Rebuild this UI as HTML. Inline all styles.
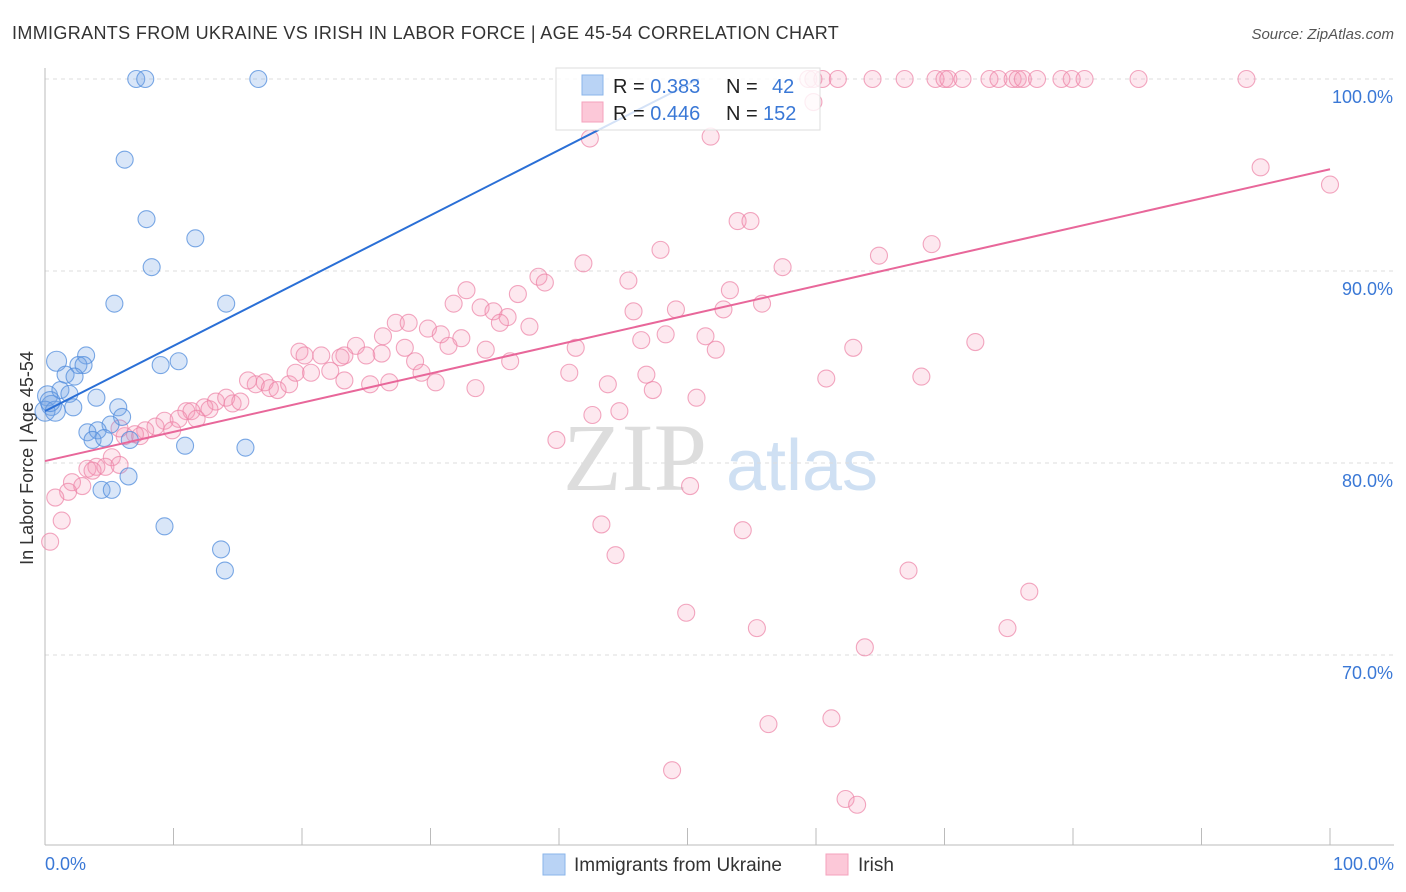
<!DOCTYPE html>
<html><head><meta charset="utf-8"><style>
body{margin:0;background:#fff;font-family:"Liberation Sans",sans-serif}
svg{display:block}
</style></head><body>
<svg id="chart" width="1406" height="892">
<text x="12" y="39" font-size="18" fill="#333" letter-spacing="0.35">IMMIGRANTS FROM UKRAINE VS IRISH IN LABOR FORCE | AGE 45-54 CORRELATION CHART</text>
<text x="1394" y="39" font-size="15" fill="#555" text-anchor="end" font-style="italic">Source: ZipAtlas.com</text>
<text x="33" y="458" font-size="18" fill="#333" text-anchor="middle" transform="rotate(-90 33 458)">In Labor Force | Age 45-54</text>
<g>
<text x="635" y="490" font-size="96" fill="#ddd" text-anchor="middle" font-family="Liberation Serif,serif">ZIP</text>
<text x="802" y="490" font-size="72" fill="#cfe0f3" text-anchor="middle">atlas</text>
</g>
<g id="grid"></g><g id="marks"></g>
<g>
<rect x="556" y="68" width="264" height="62" fill="#fff" fill-opacity="0.8" stroke="#ddd"/>
<rect x="582" y="75" width="21" height="20" fill="#b9d3f5" stroke="#8ab4ea"/>
<rect x="582" y="102" width="21" height="20" fill="#fcc8d8" stroke="#f4a2bd"/>
<text x="613" y="93" font-size="20" fill="#222">R = <tspan fill="#3a78d6"> 0.383</tspan><tspan x="726">N = </tspan><tspan x="772" fill="#3a78d6">42</tspan></text>
<text x="613" y="120" font-size="20" fill="#222">R = <tspan fill="#3a78d6">0.446</tspan><tspan x="726">N = </tspan><tspan x="763" fill="#3a78d6">152</tspan></text>
</g>
<g>
<rect x="543" y="854" width="22" height="21" fill="#b9d3f5" stroke="#8ab4ea"/>
<text x="574" y="871" font-size="19" fill="#333">Immigrants from Ukraine</text>
<rect x="826" y="854" width="22" height="21" fill="#fcc8d8" stroke="#f4a2bd"/>
<text x="858" y="871" font-size="19" fill="#333">Irish</text>
</g>
</svg>
<script>
const yTicks=[70,80,90,100];
const yTickLabels=["70.0%","80.0%","90.0%","100.0%"];
const xTicks=[0,10,20,30,40,50,60,70,80,90,100];
const ukraineX=[7.1,7.8,16.6,6.2,7.9,11.7,8.3,5.4,14.1,0.9,3.2,2.6,3.0,9.0,10.4,1.6,2.3,0.2,1.2,1.9,0.5,0,0.8,2.2,4.0,5.7,6.0,5.1,3.3,4.1,3.7,4.6,6.6,10.9,15.6,6.5,4.4,5.2,9.3,13.7,14.0,0.4];
const ukraineY=[100,100,100,95.8,92.7,91.7,90.2,88.3,88.3,85.3,85.6,85.1,85.1,85.1,85.3,84.6,84.5,83.5,83.8,83.6,83.0,82.7,82.7,82.9,83.4,82.9,82.4,82.0,81.6,81.7,81.2,81.3,81.2,80.9,80.8,79.3,78.6,78.6,76.7,75.5,74.4,83.2];
const irishX=[59.4,59.8,60.5,61.7,64.4,66.9,69.3,70.0,70.3,71.4,73.5,74.2,75.3,75.7,76.1,77.2,79.1,79.9,80.9,85.1,93.5,59.8,42.4,51.8,94.6,100,53.9,54.9,47.9,69.0,64.9,41.9,38.4,38.9,45.4,57.4,32.8,36.8,53.3,31.8,33.9,34.9,36.0,35.4,37.7,45.8,49.1,52.8,55.8,27.3,28.3,29.8,30.8,32.4,31.4,28.0,26.2,24.2,23.3,26.3,19.8,20.2,21.5,23.0,25.0,28.8,34.3,36.2,41.3,46.4,48.3,51.4,52.2,62.9,72.4,20.7,22.2,17.1,16.4,17.5,18.1,19.0,15.8,19.5,23.3,25.3,26.8,29.3,30.4,33.5,40.8,43.8,46.8,47.3,50.7,60.8,68.2,13.3,14.1,14.6,15.2,12.4,12.8,11.0,11.4,9.3,10.4,11.8,8.6,7.8,7.0,6.2,7.4,9.9,5.8,39.8,42.6,44.7,5.2,3.3,4.0,4.7,5.8,3.7,2.1,2.9,1.8,0.8,1.3,0.4,50.2,43.3,54.3,44.4,67.2,76.6,49.9,55.4,74.9,63.8,56.3,61.2,48.8,62.3,63.2];
const irishY=[100,100,100,100,100,100,100,100,100,100,100,100,100,100,100,100,100,100,100,100,100,98.8,96.9,97.0,95.4,94.5,92.6,92.6,91.1,91.4,90.8,90.4,89.7,89.4,89.5,90.2,89.0,88.8,89.0,88.3,88.1,87.9,87.6,87.3,87.1,87.9,88.0,88.0,88.3,87.3,87.3,87.0,86.7,86.5,86.1,86.0,85.7,86.1,85.6,86.6,85.8,85.6,85.6,85.5,85.6,85.3,85.9,85.3,86.0,86.4,86.7,86.6,85.9,86.0,86.3,84.7,84.8,84.2,84.1,83.9,83.8,84.1,84.3,84.7,84.3,84.1,84.2,84.7,84.2,83.9,84.7,84.1,84.6,83.8,83.4,84.4,84.5,83.2,83.4,83.1,83.2,82.9,82.8,82.7,82.7,82.2,82.3,82.3,81.9,81.7,81.5,81.4,81.4,81.7,81.8,81.2,82.5,82.7,80.3,79.7,79.8,79.8,79.9,79.6,79.0,78.8,78.5,78.2,77.0,75.9,78.8,76.8,76.5,75.2,74.4,73.3,72.2,71.4,71.4,70.4,66.4,66.7,64.0,62.5,62.2];
const blueTrend=[82.7,0.34];
const pinkTrend=[80.1,0.152];
const NS="http://www.w3.org/2000/svg";
const sx=v=>45+v*12.85, sy=v=>79+(100-v)*19.2;
function mk(t,a,p){const e=document.createElementNS(NS,t);for(const k in a)e.setAttribute(k,a[k]);p.appendChild(e);return e;}
const grid=document.getElementById('grid'),marks=document.getElementById('marks');
yTicks.forEach((t,i)=>{
 const l=mk('line',{x1:45,x2:1394,y1:sy(t),y2:sy(t),stroke:'#ddd','stroke-dasharray':'4 4'},grid);
 
 
 const tx=mk('text',{x:1393,y:sy(t)+24,'font-size':18,fill:'#3a78d6','text-anchor':'end'},grid);
 tx.textContent=yTickLabels[i];
 
 
});
const ya=mk('line',{x1:45,x2:45,y1:68,y2:845,stroke:'#bbb'},grid);


const xa=mk('line',{x1:45,x2:1394,y1:845,y2:845,stroke:'#bbb'},grid);


xTicks.forEach(t=>{const l=mk('line',{x1:sx(t),x2:sx(t),y1:828,y2:845,stroke:'#bbb'},grid);
 
 });
const x0=mk('text',{x:45,y:870,'font-size':18,fill:'#3a78d6'},grid);x0.textContent='0.0%';


const x1=mk('text',{x:1394,y:870,'font-size':18,fill:'#3a78d6','text-anchor':'end'},grid);x1.textContent='100.0%';


irishX.forEach((x,i)=>{const c=mk('circle',{cx:sx(x),cy:sy(irishY[i]),r:8.5,fill:'rgba(245,150,180,0.22)',stroke:'rgba(236,130,165,0.7)','stroke-width':1.1},marks);
 
 });
ukraineX.forEach((x,i)=>{const c=mk('circle',{cx:sx(x),cy:sy(ukraineY[i]),r:x<1?10:8.5,fill:'rgba(120,165,230,0.28)',stroke:'rgba(80,140,220,0.75)','stroke-width':1.1},marks);
 
 });
const bxEnd=Math.min(100,(100-blueTrend[0])/blueTrend[1]);
const bl=mk('line',{x1:sx(0),y1:sy(blueTrend[0]),x2:sx(bxEnd),y2:sy(blueTrend[0]+blueTrend[1]*bxEnd),stroke:'#2a6fd6','stroke-width':2},marks);


const pl=mk('line',{x1:sx(0),y1:sy(pinkTrend[0]),x2:sx(100),y2:sy(pinkTrend[0]+pinkTrend[1]*100),stroke:'#e8679a','stroke-width':2},marks);


</script>
</body></html>
